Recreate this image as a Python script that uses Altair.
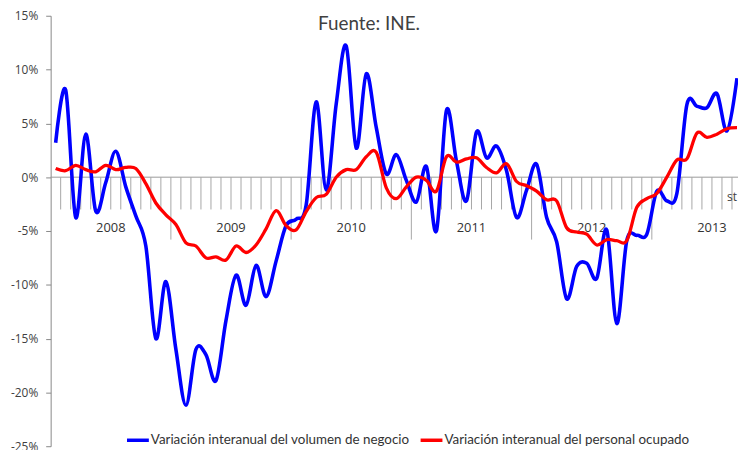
import altair as alt
import pandas as pd

# Monthly series, Jan 2008 .. Sep 2013 (year-on-year % change)
blue = [3.2, 8.1, -3.75, 4.0, -3.15, -0.5, 2.4, -0.9, -3.6, -6.4, -15.0, -9.7,
        -16.0, -21.2, -16.0, -16.5, -18.9, -13.3, -9.1, -11.9, -8.2, -11.1, -7.8, -4.5,
        -3.9, -2.6, 7.0, -1.2, 6.8, 12.2, 2.7, 9.6, 4.6, 0.3, 2.1, -0.3,
        -2.3, 1.0, -5.0, 6.2, 1.5, -2.2, 4.2, 1.8, 2.9, 0.6, -3.75, -1.2,
        1.2, -3.75, -6.0, -11.3, -8.3, -8.0, -9.4, -4.9, -13.6, -5.9, -5.4, -5.3,
        -1.3, -2.2, -1.5, 6.75, 6.6, 6.45, 7.75, 4.3, 9.2]
red = [0.8, 0.6, 1.1, 0.7, 0.5, 1.1, 0.7, 0.9, 0.8, -0.6, -2.4, -3.5,
       -4.4, -6.1, -6.4, -7.5, -7.4, -7.7, -6.4, -7.0, -6.3, -4.8, -3.1, -4.5,
       -4.9, -3.2, -1.9, -1.6, 0.0, 0.7, 0.7, 1.9, 2.3, -1.0, -2.0, -0.9,
       0.0, -0.3, -1.3, 1.9, 1.4, 1.7, 1.8, 0.9, 0.4, 1.25, -0.4, -0.8,
       -1.3, -2.1, -2.2, -4.7, -5.1, -5.3, -6.3, -5.8, -5.9, -5.9, -2.8, -2.0,
       -1.5, 0.0, 1.6, 1.7, 4.1, 3.7, 4.0, 4.5, 4.6]
years = ["2008", "2009", "2010", "2011", "2012", "2013"]
series_names = ["Variación interanual del volumen de negocio",
                "Variación interanual del personal ocupado"]
series_colors = ["#0000ff", "#ff0000"]
y_ticks = [-25, -20, -15, -10, -5, 0, 5, 10, 15]

n = len(blue)
df_blue = pd.DataFrame({"m": [i + 0.5 for i in range(n)], "v": blue, "s": series_names[0]})
df_red = pd.DataFrame({"m": [i + 0.5 for i in range(n)], "v": red, "s": series_names[1]})

bounds = list(range(1, n))
df_ticks = pd.DataFrame({"k": bounds, "top": 0.0,
                         "bot": [-5.8 if k % 12 == 0 else -3.0 for k in bounds]})
df_years = pd.DataFrame({"c": [6 + 12 * j for j in range(len(years))], "year": years})

xs = alt.Scale(domain=[0, 68.6], nice=False, zero=False)
ys = alt.Scale(domain=[-25, 15], nice=False, zero=False)

color_enc = alt.Color(
    "s:N",
    scale=alt.Scale(domain=series_names, range=series_colors),
    legend=alt.Legend(
        orient="none", legendX=75, legendY=415, direction="horizontal", title=None,
        symbolType="stroke", symbolStrokeWidth=3.5, symbolSize=484,
        labelFont="Lato", labelFontSize=13.5, labelColor="#333333",
        labelOffset=0, columnPadding=4, labelLimit=500, padding=0,
    ),
)

yaxis = alt.Axis(values=y_ticks, labelExpr="datum.value + '%'", grid=False,
                 domainColor="#888888", tickColor="#888888", tickSize=5,
                 labelFont="Open Sans", labelFontSize=12, labelColor="#404040",
                 labelPadding=8, title=None)

zero = alt.Chart(pd.DataFrame({"z": [0]})).mark_rule(color="#999999", strokeWidth=1).encode(
    y=alt.Y("z:Q", scale=ys, axis=yaxis)
)

ticks = alt.Chart(df_ticks).mark_rule(color="#a6a6a6", strokeWidth=1).encode(
    x=alt.X("k:Q", scale=xs, axis=None),
    y=alt.Y("top:Q", scale=ys),
    y2="bot:Q",
)

year_text = alt.Chart(df_years).mark_text(font="Open Sans", fontSize=13, color="#333333").encode(
    x=alt.X("c:Q", scale=xs, axis=None),
    y=alt.datum(-4.7),
    text="year:N",
)

line_blue = alt.Chart(df_blue).mark_line(interpolate="cardinal", strokeWidth=3.6, clip=True).encode(
    x=alt.X("m:Q", scale=xs, axis=None),
    y=alt.Y("v:Q", scale=ys),
    color=color_enc,
)
line_red = alt.Chart(df_red).mark_line(interpolate="cardinal", strokeWidth=3.3, clip=True).encode(
    x=alt.X("m:Q", scale=xs, axis=None),
    y=alt.Y("v:Q", scale=ys),
    color=color_enc,
)

title_txt = alt.Chart(pd.DataFrame({"t": ["Fuente: INE."]})).mark_text(
    font="Lato", fontSize=19, color="#404040", align="center", baseline="middle"
).encode(x=alt.value(321), y=alt.value(8), text="t:N")

st_txt = alt.Chart(pd.DataFrame({"t": ["st"], "x": [67.5], "y": [-1.8]})).mark_text(
    font="Open Sans", fontSize=12, color="#404040", align="left", baseline="middle"
).encode(x=alt.X("x:Q", scale=xs, axis=None), y=alt.Y("y:Q", scale=ys), text="t:N")

chart = alt.layer(zero, ticks, year_text, line_blue, line_red, title_txt, st_txt).properties(
    width=693, height=434,
    autosize=alt.AutoSizeParams(type="none"),
    padding={"left": 43, "top": 6, "right": 0, "bottom": 2},
).configure_view(stroke=None)

chart.save("out.html", embed_options={"renderer": "svg", "actions": False})
